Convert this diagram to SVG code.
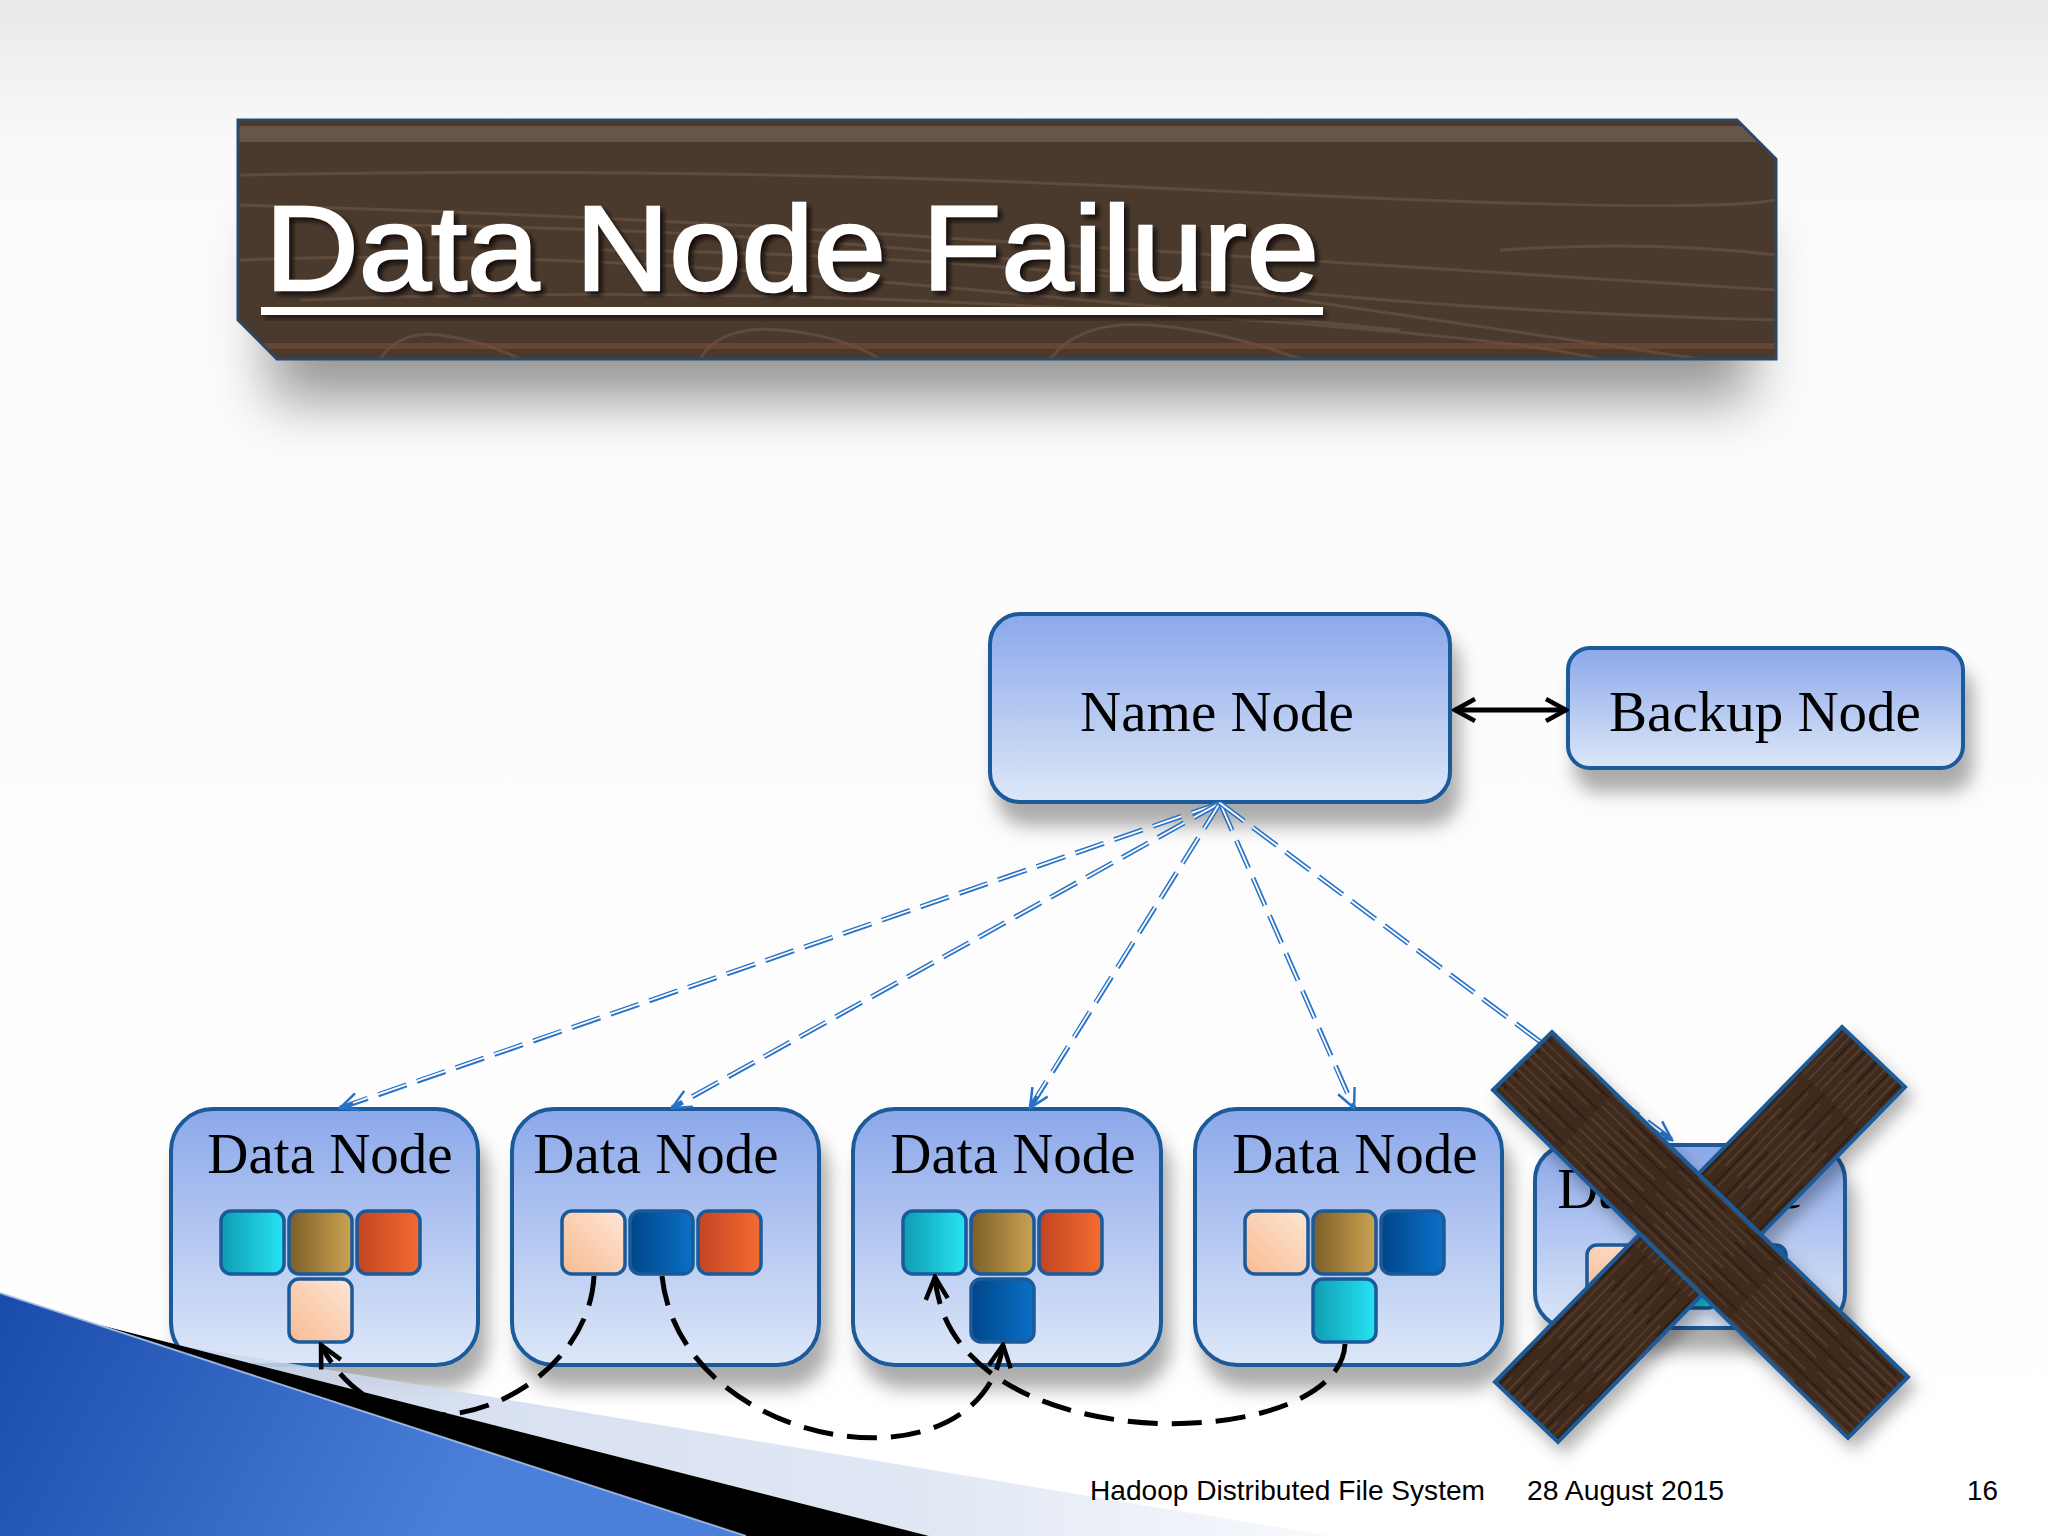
<svg xmlns="http://www.w3.org/2000/svg" width="2048" height="1536" viewBox="0 0 2048 1536">
<defs>
<style>
.node{fill:url(#nodeFill);stroke:#1a5a99;stroke-width:4;}
.lbl{font-family:"Liberation Serif","Times New Roman",serif;font-size:57px;fill:#000;text-anchor:middle;}
.blk{stroke:#1a5a99;stroke-width:3.5;}
.hbO{fill:none;stroke:#2872c8;stroke-width:5;stroke-dasharray:30 11;}
.hbI{fill:none;stroke:#fff;stroke-width:1.8;stroke-dasharray:30 11;}
.rep{fill:none;stroke:#000;stroke-width:5;stroke-dasharray:30 14;}
.foot{font-family:"Liberation Sans",Arial,sans-serif;font-size:28px;fill:#000;}
.grain{fill:none;stroke:#6f5a47;stroke-width:3;opacity:0.55;}
.plank{fill:url(#woodA);stroke:#1a5a99;stroke-width:4;}
</style>
<linearGradient id="bg" x1="0" y1="0" x2="0" y2="1">
<stop offset="0" stop-color="#e9e9e9"/><stop offset="0.1" stop-color="#fafafa"/><stop offset="1" stop-color="#ffffff"/>
</linearGradient>
<linearGradient id="nodeFill" x1="0" y1="0" x2="0" y2="1">
<stop offset="0" stop-color="#8ba8ea"/><stop offset="1" stop-color="#dde7f8"/>
</linearGradient>
<linearGradient id="gCyan" x1="0" y1="0" x2="1" y2="0"><stop offset="0" stop-color="#0f9cb2"/><stop offset="1" stop-color="#26e4f4"/></linearGradient>
<linearGradient id="gGold" x1="0" y1="0" x2="1" y2="0"><stop offset="0" stop-color="#7c5e28"/><stop offset="1" stop-color="#cba452"/></linearGradient>
<linearGradient id="gOrange" x1="0" y1="0" x2="1" y2="0"><stop offset="0" stop-color="#c24422"/><stop offset="1" stop-color="#f46c31"/></linearGradient>
<linearGradient id="gPeach" x1="0" y1="1" x2="1" y2="0"><stop offset="0" stop-color="#f7bb92"/><stop offset="1" stop-color="#fee6d6"/></linearGradient>
<linearGradient id="gBlue" x1="0" y1="0" x2="1" y2="0"><stop offset="0" stop-color="#00468a"/><stop offset="1" stop-color="#0b70c6"/></linearGradient>
<linearGradient id="gDecoBlue" gradientUnits="userSpaceOnUse" x1="0" y1="1300" x2="450" y2="1536">
<stop offset="0" stop-color="#1a4cab"/><stop offset="1" stop-color="#4b80da"/></linearGradient>
<linearGradient id="gBand" gradientUnits="userSpaceOnUse" x1="300" y1="0" x2="1330" y2="0">
<stop offset="0" stop-color="#cdd8ee"/><stop offset="0.6" stop-color="#dbe3f2"/><stop offset="1" stop-color="#f6f8fc"/></linearGradient>
<pattern id="woodA" patternUnits="userSpaceOnUse" width="240" height="16" patternTransform="rotate(44)">
<rect width="240" height="16" fill="#3f2b1f"/>
<path d="M0,3 H90 M120,3 H200" stroke="#5b4131" stroke-width="1.6"/>
<path d="M30,8 H160 M190,8 H240" stroke="#2e1f15" stroke-width="2"/>
<path d="M0,12 H60 M100,12 H230" stroke="#553c2c" stroke-width="1.4"/>
</pattern>
<pattern id="woodB" patternUnits="userSpaceOnUse" width="240" height="16" patternTransform="rotate(-46)">
<rect width="240" height="16" fill="#3f2b1f"/>
<path d="M0,3 H90 M120,3 H200" stroke="#5b4131" stroke-width="1.6"/>
<path d="M30,8 H160 M190,8 H240" stroke="#2e1f15" stroke-width="2"/>
<path d="M0,12 H60 M100,12 H230" stroke="#553c2c" stroke-width="1.4"/>
</pattern>
<clipPath id="bannerClip"><path d="M238,120 L1737,120 L1776,159 L1776,359 L277,359 L238,320 Z"/></clipPath>
<filter id="sh" x="-20%" y="-20%" width="150%" height="160%">
<feDropShadow dx="8" dy="22" stdDeviation="9" flood-color="#000" flood-opacity="0.32"/>
</filter>
<filter id="shX" x="-20%" y="-20%" width="150%" height="150%">
<feDropShadow dx="6" dy="10" stdDeviation="8" flood-color="#000" flood-opacity="0.3"/>
</filter>
<filter id="blurBig" x="-20%" y="-50%" width="140%" height="200%"><feGaussianBlur stdDeviation="28"/></filter>
<filter id="tsh" x="-5%" y="-20%" width="110%" height="140%"><feGaussianBlur stdDeviation="2"/></filter>
<marker id="ahBlue" viewBox="0 0 24 24" refX="22" refY="12" markerWidth="24" markerHeight="24" markerUnits="userSpaceOnUse" orient="auto">
<path d="M3,3 L22,12 L3,21" fill="none" stroke="#2872c8" stroke-width="2.5"/>
</marker>
<marker id="ahBlack" viewBox="0 0 28 28" refX="25" refY="14" markerWidth="28" markerHeight="28" markerUnits="userSpaceOnUse" orient="auto">
<path d="M3,3 L25,14 L3,25" fill="none" stroke="#000" stroke-width="4.5"/>
</marker>
<marker id="ahDbl" viewBox="0 0 26 28" refX="23" refY="14" markerWidth="26" markerHeight="28" markerUnits="userSpaceOnUse" orient="auto-start-reverse">
<path d="M3,3 L23,14 L3,25" fill="none" stroke="#000" stroke-width="4.5"/>
</marker>
</defs>

<rect width="2048" height="1536" fill="url(#bg)"/>

<g id="title">
<rect x="270" y="230" width="1480" height="170" fill="#000" opacity="0.4" filter="url(#blurBig)"/>
<path d="M238,120 L1737,120 L1776,159 L1776,359 L277,359 L238,320 Z" fill="#4a3a2d"/>
<g clip-path="url(#bannerClip)">
<rect x="238" y="126" width="1540" height="16" fill="#6e5d4d" opacity="0.8"/>
<path class="grain" d="M240,175 Q700,165 1200,190 T1776,200"/>
<path class="grain" d="M240,205 Q600,215 900,235 T1776,290"/>
<path class="grain" d="M400,225 Q800,230 1100,270 T1776,320"/>
<path class="grain" d="M600,250 Q1000,255 1300,300 T1700,359"/>
<path class="grain" d="M240,260 Q500,250 800,275 T1400,330"/>
<path class="grain" d="M300,300 Q700,285 1100,310 T1600,359"/>
<path class="grain" d="M700,359 Q720,325 780,330 T880,359"/>
<path class="grain" d="M1050,359 Q1080,320 1150,325 T1300,359"/>
<path class="grain" d="M380,359 Q400,330 440,335 T520,359"/>
<path class="grain" d="M1500,250 Q1650,240 1776,255"/>
<rect x="238" y="343" width="1540" height="6" fill="#7a4e34" opacity="0.6"/>
</g>
<path d="M238,120 L1737,120 L1776,159 L1776,359 L277,359 L238,320 Z" fill="none" stroke="#2c4666" stroke-width="3"/>
<text x="269" y="294" font-family="Liberation Sans, Arial, sans-serif" font-size="120" textLength="1054" lengthAdjust="spacingAndGlyphs" fill="#140d08" stroke="#140d08" stroke-width="2" filter="url(#tsh)">Data Node Failure</text>
<text x="265" y="290" font-family="Liberation Sans, Arial, sans-serif" font-size="120" textLength="1054" lengthAdjust="spacingAndGlyphs" fill="#ffffff" stroke="#ffffff" stroke-width="2.5">Data Node Failure</text>
<rect x="264" y="311" width="1062" height="8" fill="#140d08" opacity="0.7" filter="url(#tsh)"/>
<rect x="261" y="307" width="1062" height="8" fill="#ffffff"/>
</g>

<g id="name-node">
<rect class="node" x="990" y="614" width="460" height="188" rx="30" filter="url(#sh)"/>
<text class="lbl" x="1217" y="731">Name Node</text>
</g>

<g id="backup-node">
<rect class="node" x="1568" y="648" width="395" height="120" rx="22" filter="url(#sh)"/>
<text class="lbl" x="1765" y="731">Backup Node</text>
</g>

<g id="data-node-1">
<rect class="node" x="171" y="1109" width="307" height="256" rx="42" filter="url(#sh)"/>
<text class="lbl" x="330" y="1173">Data Node</text>
<rect class="blk" x="221" y="1211" width="63" height="63" rx="10" fill="url(#gCyan)"/>
<rect class="blk" x="289" y="1211" width="63" height="63" rx="10" fill="url(#gGold)"/>
<rect class="blk" x="357" y="1211" width="63" height="63" rx="10" fill="url(#gOrange)"/>
<rect class="blk" x="289" y="1279" width="63" height="63" rx="10" fill="url(#gPeach)"/>
</g>

<g id="data-node-2">
<rect class="node" x="512" y="1109" width="307" height="256" rx="42" filter="url(#sh)"/>
<text class="lbl" x="656" y="1173">Data Node</text>
<rect class="blk" x="562" y="1211" width="63" height="63" rx="10" fill="url(#gPeach)"/>
<rect class="blk" x="630" y="1211" width="63" height="63" rx="10" fill="url(#gBlue)"/>
<rect class="blk" x="698" y="1211" width="63" height="63" rx="10" fill="url(#gOrange)"/>
</g>

<g id="data-node-3">
<rect class="node" x="853" y="1109" width="308" height="256" rx="42" filter="url(#sh)"/>
<text class="lbl" x="1013" y="1173">Data Node</text>
<rect class="blk" x="903" y="1211" width="63" height="63" rx="10" fill="url(#gCyan)"/>
<rect class="blk" x="971" y="1211" width="63" height="63" rx="10" fill="url(#gGold)"/>
<rect class="blk" x="1039" y="1211" width="63" height="63" rx="10" fill="url(#gOrange)"/>
<rect class="blk" x="971" y="1279" width="63" height="63" rx="10" fill="url(#gBlue)"/>
</g>

<g id="data-node-4">
<rect class="node" x="1195" y="1109" width="307" height="256" rx="42" filter="url(#sh)"/>
<text class="lbl" x="1355" y="1173">Data Node</text>
<rect class="blk" x="1245" y="1211" width="63" height="63" rx="10" fill="url(#gPeach)"/>
<rect class="blk" x="1313" y="1211" width="63" height="63" rx="10" fill="url(#gGold)"/>
<rect class="blk" x="1381" y="1211" width="63" height="63" rx="10" fill="url(#gBlue)"/>
<rect class="blk" x="1313" y="1279" width="63" height="63" rx="10" fill="url(#gCyan)"/>
</g>

<g id="data-node-5">
<rect class="node" x="1535" y="1145" width="310" height="183" rx="35" filter="url(#sh)"/>
<text class="lbl" x="1680" y="1208">Data Node</text>
<rect class="blk" x="1587" y="1245" width="63" height="63" rx="10" fill="url(#gPeach)"/>
<rect class="blk" x="1655" y="1245" width="63" height="63" rx="10" fill="url(#gCyan)"/>
<rect class="blk" x="1723" y="1245" width="63" height="63" rx="10" fill="url(#gBlue)"/>
</g>

<g id="decor">
<path d="M166,1343 L1330,1536 L929,1536 Z" fill="url(#gBand)" opacity="0.85"/>
<path d="M100,1325 L929,1536 L746,1536 Z" fill="#000"/>
<path d="M0,1293 L746,1536 L0,1536 Z" fill="url(#gDecoBlue)"/>
<path d="M0,1293 L746,1536" stroke="#a9c0e8" stroke-width="2" opacity="0.8"/>
</g>

<g id="connectors">
<path class="hbO" d="M1220,803 L340,1108" marker-end="url(#ahBlue)"/>
<path class="hbI" d="M1220,803 L353,1103"/>
<path class="hbO" d="M1220,803 L672,1108" marker-end="url(#ahBlue)"/>
<path class="hbI" d="M1220,803 L684,1101"/>
<path class="hbO" d="M1220,803 L1030,1108" marker-end="url(#ahBlue)"/>
<path class="hbI" d="M1220,803 L1037,1096"/>
<path class="hbO" d="M1220,803 L1354,1108" marker-end="url(#ahBlue)"/>
<path class="hbI" d="M1220,803 L1348,1095"/>
<path class="hbO" d="M1220,803 L1672,1140" marker-end="url(#ahBlue)"/>
<path class="hbI" d="M1220,803 L1661,1132"/>
<path class="rep" d="M594,1276 C588,1400 390,1480 321,1345" marker-end="url(#ahBlack)"/>
<path class="rep" d="M662,1276 C680,1450 980,1500 1003,1345" marker-end="url(#ahBlack)"/>
<path class="rep" d="M1345,1344 C1340,1455 950,1465 935,1277" marker-end="url(#ahBlack)"/>
<path d="M1455,710 L1566,710" fill="none" stroke="#000" stroke-width="5" marker-start="url(#ahDbl)" marker-end="url(#ahDbl)"/>
</g>

<g id="failure-x" filter="url(#shX)">
<path class="plank" style="fill:url(#woodB)" d="M1842,1027 L1905,1087 L1558,1442 L1495,1382 Z"/>
<path class="plank" d="M1493,1090 L1552,1032 L1908,1377 L1848,1438 Z"/>
</g>

<g id="footer">
<text class="foot" x="1090" y="1500" textLength="395" lengthAdjust="spacingAndGlyphs">Hadoop Distributed File System</text>
<text class="foot" x="1527" y="1500" textLength="197" lengthAdjust="spacingAndGlyphs">28 August 2015</text>
<text class="foot" x="1967" y="1500" textLength="31" lengthAdjust="spacingAndGlyphs">16</text>
</g>
</svg>
